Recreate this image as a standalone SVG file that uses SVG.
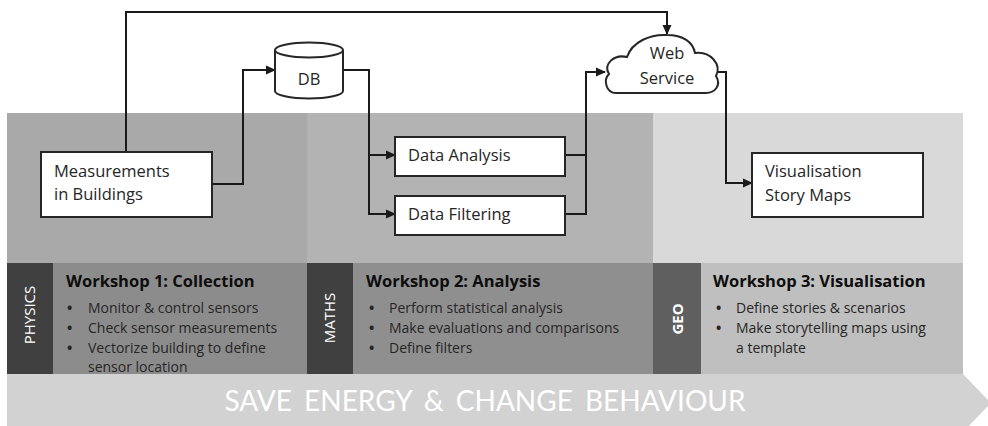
<svg xmlns="http://www.w3.org/2000/svg" width="988" height="426" viewBox="0 0 988 426">
<style>
  text { font-family: "Open Sans", Lato, "Liberation Sans", sans-serif; }
  .box { fill: #ffffff; stroke: #262626; stroke-width: 2; }
  .lbl { font-size: 16.5px; fill: #262626; }
  .title { font-size: 16.5px; font-weight: bold; fill: #0d0d0d; }
  .item { font-size: 14px; fill: #262626; }
  .bul { font-weight: bold; }
  .side { font-size: 15px; fill: #ffffff; }
  .conn { fill: none; stroke: #1a1a1a; stroke-width: 2; }
</style>
<defs>
  <marker id="arr" markerUnits="userSpaceOnUse" markerWidth="10" markerHeight="10" viewBox="0 0 10 10" refX="9" refY="5" orient="auto">
    <path d="M0,0.5 L10,5 L0,9.5 Z" fill="#1a1a1a"/>
  </marker>
</defs>
<rect width="988" height="426" fill="#ffffff"/>
<g id="background">
  <polygon points="7,374 963,374 991,403 963,432 7,432" fill="#d2d2d2"/>
  <rect x="7" y="113" width="300" height="150" fill="#a9a9a9"/>
  <rect x="307" y="113" width="346" height="150" fill="#b3b3b3"/>
  <rect x="653" y="113" width="310" height="150" fill="#d9d9d9"/>
  <text x="485" y="411" text-anchor="middle" style="font-family:Lato, 'Open Sans', sans-serif; font-size:28px; fill:#ffffff; word-spacing:5px">SAVE ENERGY &amp; CHANGE BEHAVIOUR</text>
</g>
<g id="workshop1">
  <rect x="7" y="263" width="46" height="111" fill="#404040"/>
  <rect x="53" y="263" width="254" height="111" fill="#8c8c8c"/>
  <text class="side" transform="translate(35,315) rotate(-90)" text-anchor="middle">PHYSICS</text>
  <text class="title" x="66" y="287">Workshop 1: Collection</text>
  <g class="item">
    <text class="bul" x="67" y="313">•</text><text x="88" y="313">Monitor &amp; control sensors</text>
    <text class="bul" x="67" y="333">•</text><text x="88" y="333">Check sensor measurements</text>
    <text class="bul" x="67" y="353">•</text><text x="88" y="353">Vectorize building to define</text>
    <text x="88" y="372">sensor location</text>
  </g>
</g>
<g id="workshop2">
  <rect x="307" y="263" width="46" height="111" fill="#404040"/>
  <rect x="353" y="263" width="300" height="111" fill="#8f8f8f"/>
  <text class="side" transform="translate(335,318) rotate(-90)" text-anchor="middle">MATHS</text>
  <text class="title" x="366" y="287">Workshop 2: Analysis</text>
  <g class="item">
    <text class="bul" x="369" y="313">•</text><text x="389" y="313">Perform statistical analysis</text>
    <text class="bul" x="369" y="333">•</text><text x="389" y="333">Make evaluations and comparisons</text>
    <text class="bul" x="369" y="353">•</text><text x="389" y="353">Define filters</text>
  </g>
</g>
<g id="workshop3">
  <rect x="653" y="263" width="48" height="111" fill="#5f5f5f"/>
  <rect x="701" y="263" width="262" height="111" fill="#bfbfbf"/>
  <text class="side" transform="translate(683,319) rotate(-90)" text-anchor="middle" font-weight="bold">GEO</text>
  <text class="title" x="713" y="287">Workshop 3: Visualisation</text>
  <g class="item">
    <text class="bul" x="716" y="313">•</text><text x="736" y="313">Define stories &amp; scenarios</text>
    <text class="bul" x="716" y="333">•</text><text x="736" y="333">Make storytelling maps using</text>
    <text x="736" y="353">a template</text>
  </g>
</g>
<g id="connectors">
  <path class="conn" d="M126,152 V12 H667 V34" marker-end="url(#arr)"/>
  <path class="conn" d="M212,184 H243 V70 H275" marker-end="url(#arr)"/>
  <path class="conn" d="M343,70 H369 V214 H395" marker-end="url(#arr)"/>
  <path class="conn" d="M369,155 H395" marker-end="url(#arr)"/>
  <path class="conn" d="M565,155 H586"/>
  <path class="conn" d="M565,214 H586 V72 H605" marker-end="url(#arr)"/>
  <path class="conn" d="M718,72 H726 V183 H752" marker-end="url(#arr)"/>
</g>
<g id="measurements">
  <rect class="box" x="41" y="152" width="171" height="65"/>
  <text class="lbl" x="54" y="177">Measurements</text>
  <text class="lbl" x="54" y="200">in Buildings</text>
</g>
<g id="db">
  <path class="box" d="M275,50 V91 A34,7.5 0 0 0 343,91 V50"/>
  <ellipse class="box" cx="309" cy="50" rx="34" ry="7.5"/>
  <text class="lbl" x="309" y="85" text-anchor="middle">DB</text>
</g>
<g id="data-analysis">
  <rect class="box" x="395" y="137" width="170" height="39"/>
  <text class="lbl" x="408" y="161">Data Analysis</text>
</g>
<g id="data-filtering">
  <rect class="box" x="395" y="196" width="170" height="39"/>
  <text class="lbl" x="408" y="220">Data Filtering</text>
</g>
<g id="web-service">
  <path class="box" d="M616,93 C606,93 603,80 609,74 C603,64 614,54 627,57 C632,42 650,34 667,35 C683,35 693,42 695,53 C710,51 722,64 716,76 C722,86 714,93 706,93 Z"/>
  <text class="lbl" x="667" y="59" text-anchor="middle">Web</text>
  <text class="lbl" x="667" y="84" text-anchor="middle">Service</text>
</g>
<g id="visualisation">
  <rect class="box" x="752" y="153" width="171" height="64"/>
  <text class="lbl" x="765" y="177">Visualisation</text>
  <text class="lbl" x="765" y="201">Story Maps</text>
</g>
</svg>
